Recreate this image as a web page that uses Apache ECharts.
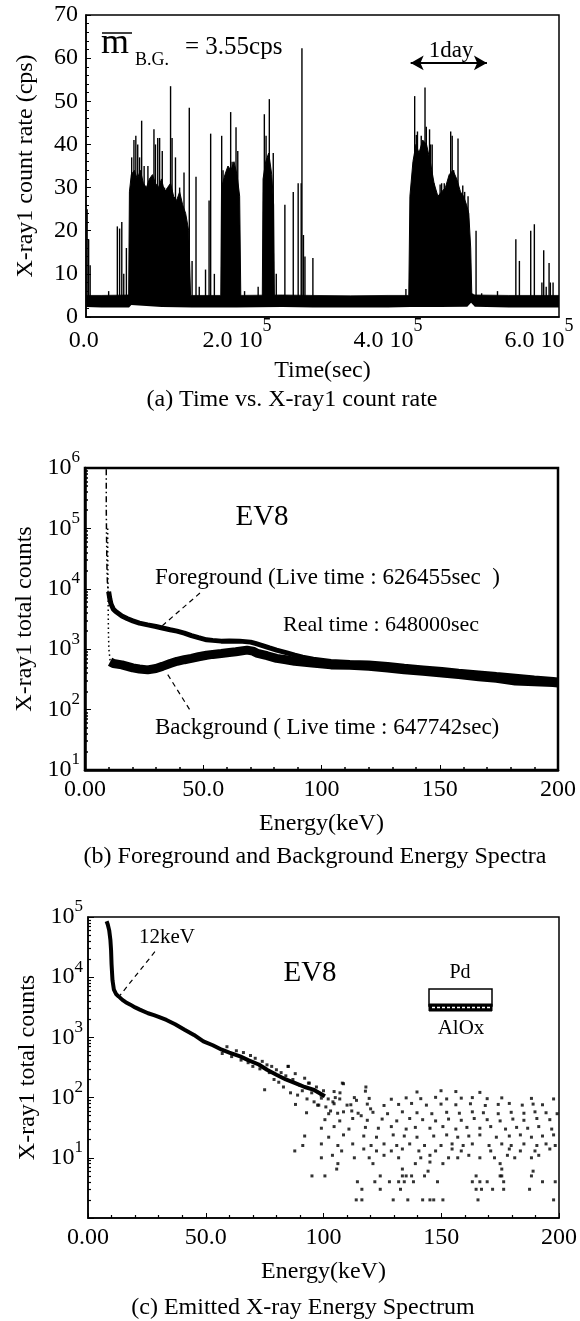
<!DOCTYPE html>
<html><head><meta charset="utf-8">
<script src="https://cdn.jsdelivr.net/npm/echarts@6/dist/echarts.min.js"></script>
<style>html,body{margin:0;padding:0;background:#fff}#c{width:580px;height:1321px}</style>
</head><body><div id="c"></div>
<script>
// ---------- Panel (a): time vs count rate ----------
const timeTickValues = [0, 200000, 400000, 600000];
const timeTickLabels = ['0.0', '2.0 10', '4.0 10', '6.0 10'];
const timeTickSup = ['', '5', '5', '5'];
const rateTicks = [0, 10, 20, 30, 40, 50, 60, 70];
// baseline band (lower / upper edge of the dense background trace)
const bandT    = [0, 20000, 57000, 60000, 100000, 140000, 200000, 260000, 300000, 350000, 400000, 430000, 470000, 505000, 510000, 515000, 560000, 600000, 626455];
const bandLow  = [2.3, 2.2, 2.2, 2.8, 2.3, 2.2, 2.2, 2.3, 2.2, 2.2, 2.2, 2.3, 2.3, 2.4, 3.3, 2.4, 2.2, 2.2, 2.2];
const bandHigh = [5.0, 5.0, 5.1, 5.2, 5.0, 5.0, 5.0, 5.1, 5.0, 4.9, 5.0, 5.0, 5.2, 5.2, 5.5, 5.1, 5.0, 5.0, 5.0];
// dense burst envelopes
const burst1 = [[56500,5],[57500,29],[60000,33],[64000,34],[68000,32],[72000,34],[76000,31],[80000,30],[84000,32],[88000,33],[92000,31],[96000,30],[100000,32],[104000,29],[108000,30],[112000,31],[116000,28],[120000,27],[124000,29],[128000,26],[132000,24],[136000,20],[138500,5]];
const burst2 = [[178500,5],[179500,30],[184000,33],[188000,35],[192000,34],[196000,36],[200000,33],[203500,28],[205000,5]];
const burst3 = [[233500,5],[234500,32],[238000,36],[242000,38],[246000,33],[248500,26],[249500,5]];
const burst4 = [[427500,5],[429000,28],[433000,36],[437000,40],[441000,38],[446000,41],[451000,40],[456000,36],[461000,31],[466000,28],[471000,29],[476000,30],[481000,33],[486000,34],[491000,32],[496000,29],[500000,28],[504000,26],[507000,24],[509500,16],[511000,5]];
// individual spikes [time, cps]
const spikes = [
 [1500,25],[3500,18],[5500,12],[30000,6],[41500,21],[44500,20.5],[47400,22],[50000,10],[53500,16],
 [60500,37],[63500,41],[66000,42],[68500,40],[71000,37],[73700,45.5],[77000,35],[82000,35],[90000,43.5],[92000,40],[95000,41.5],[97500,41.5],[101000,38.5],[104000,30],[112000,53.5],[114000,41.5],[118500,37],[124000,30],[129800,33.5],[136800,48.5],[140500,13],[145700,32.5],[150000,7],[158300,11],[163000,27],[165100,42.5],[170000,10],
 [179700,42],[181500,34],[191600,47.5],[193500,36],[198700,44],[201000,38.5],[210000,6],[228000,7],
 [236200,47],[238500,42],[242800,50.5],[248000,38],[252000,10],[263400,26],[274500,29],[281000,31],[285000,31],[286000,62.3],[288000,19],[290000,14],[300500,13.7],
 [423700,6.5],[435300,51.2],[437500,42.2],[439000,43],[444000,42],[449000,53.2],[450700,44.1],[455000,43.5],[456300,40],[458500,40],[461000,31],[469000,30.7],[471000,31],[474500,31],[483000,43],[485000,42],[487000,34],[492700,41.4],[499000,30.5],[501500,29],[506000,28],
 [516600,20],[524000,5.5],[545000,6],[569300,18],[574000,13],[589000,20],[593800,21.5],[603800,8],[606200,15.5],[609500,7],[613300,12.5],[615000,8],[618600,8]
];

// ---------- Panel (b): foreground / background spectra ----------
const energyTickValues = [0, 50, 100, 150, 200];
const energyTickLabels = ['0.00', '50.0', '100', '150', '200'];
const fgSpike = [[9.0,950000],[9.0,200000],[9.1,80000],[9.2,40000],[9.3,20000],[9.5,12000],[9.8,9000]];
const fgE = [10.0, 10.5, 11, 12, 13, 15.6, 18, 20.2, 23, 26.5, 30, 32.7, 36, 38.9, 42, 45, 48, 51.4, 54, 57.6, 61, 65.4, 70, 72, 74.7, 78, 81, 85, 88.7, 92, 96.5, 104, 112, 120, 128, 135, 143, 151, 158, 166.5, 174, 182, 190, 198, 200];
const fgV = [9000, 6800, 5600, 4600, 4200, 3550, 3200, 2950, 2700, 2530, 2380, 2240, 2100, 1990, 1850, 1680, 1550, 1430, 1400, 1360, 1370, 1360, 1310, 1250, 1160, 1050, 965, 880, 800, 740, 680, 625, 605, 590, 560, 520, 490, 460, 430, 405, 380, 357, 335, 316, 310];
const bgSpike = [[9.6,100000],[9.6,40000],[9.7,15000],[9.8,5000],[9.9,2000],[10.1,1000],[10.6,650]];
const bgE = [10.6, 12, 15.6, 20.2, 23, 26.5, 30, 32.7, 36, 38.9, 42, 45, 48, 51.4, 54, 57.6, 61, 63.8, 68.5, 71, 73, 77, 81, 85, 88.7, 96, 104, 112, 120, 128, 135, 143, 151, 158, 166.5, 174, 182, 190, 198, 200];
const bgV = [620, 580, 550, 490, 470, 455, 480, 520, 580, 630, 670, 705, 750, 795, 820, 850, 880, 905, 965, 930, 850, 780, 705, 670, 630, 590, 550, 540, 520, 490, 455, 430, 405, 380, 350, 330, 297, 290, 280, 275];

// ---------- Panel (c): emitted spectrum ----------
const cE = [7.9, 8.4, 9.0, 9.5, 9.8, 10.0, 10.4, 11.0, 12, 13, 14.6, 16, 18, 20, 22, 25.5, 28, 30, 33.3, 37, 41, 45, 49, 53, 56.8, 60, 64.6, 68, 72.5, 76, 80, 84, 88, 92, 96, 100.6];
const cV = [85000, 75000, 60000, 42000, 28000, 16500, 8900, 6200, 5200, 4800, 4200, 3850, 3500, 3150, 2900, 2520, 2350, 2200, 1950, 1650, 1340, 1100, 860, 740, 625, 560, 485, 420, 355, 290, 240, 200, 174, 150, 134, 105];
const cSpread = [[57,540],[59,700],[61,480],[63,600],[65,420],[66,560],[68,380],[69,500],[70,330],[71,450],[73,300],[74,400],[75,135],[76,350],[77,260],[78,330],[79,200],[80,290],[81,180],[82,260],[83,150],[84,230],[85,330],[86,120],[87,200],[88,250],[89,110],[90,160],[91,130],[92,210],[93,95],[94,174],[95,120],[96,85],[97,150],[98,75],[99,110],[100,130],[101,70],[102,95],[103,60],[104,85],[105,100],[106,55],[107,120],[108,174],[110,75],[112,60],[114,90],[116,50],[118,150],[120,65]];
const cNoise = [
 [113.9,2],[116.3,2],[129.6,2],[135.8,2],[142.1,2],[145.2,2],[146.8,2],[150.7,2],[165.6,2],[197.7,2],
 [116.3,3],[124.1,3],[132.7,3],[164.8,3],[167.1,3],[171.8,3],[176.5,3],[187.5,3],
 [114.4,4],[121.8,4],[128.0,4],[131.9,4],[134.3,4],[138.2,4],[148.4,4],[163.2,4],[166.4,4],[169.5,4],[176.5,4],[193.0,4],[198.4,4],
 [95.1,5],[100.6,5],[124.1,5],[133.5,5],[135.1,5],[137.4,5],[142.9,5],[164.8,5],[175.0,5],[175.7,5],[188.3,5],
 [105.6,6.5],[133.5,6.5],[144.4,6],[175.7,6.5],[189.0,6],[106.1,8],[121.0,8],[139.0,8],[145.2,8.5],[150.7,8],[175.0,8],
 [99.1,10],[103.8,11],[113.1,10],[119.4,10],[125.7,11],[131.9,10],[141.3,10],[145.2,11],[153.1,10],[157.0,10],[161.7,11],[166.4,10],[172.6,10],[178.1,11],[181.2,10],[188.3,10],[191.4,11],
 [87.8,13],[107.7,13],[117.1,14],[122.5,13],[128.8,13],[133.5,14],[140.5,13],[147.6,13],[154.6,14],[158.5,13],[171.0,13],[178.9,14],[183.6,13],[189.8,13],[196.1,14],
 [91.2,16],[99.1,17],[106.1,16],[112.4,17],[120.2,16],[125.7,17],[131.1,16],[136.6,17],[142.9,16],[149.9,16],[154.6,17],[159.3,16],[163.2,17],[170.3,16],[175.7,17],[179.7,16],[185.1,17],[190.6,16],[194.5,17],[198.4,16],
 [92.0,23],[102.2,22],[108.5,24],[117.1,23],[122.5,22],[129.6,24],[134.3,23],[139.7,22],[146.8,23],[152.3,24],[157.0,22],[161.7,23],[166.4,24],[173.4,22],[178.9,23],[183.6,24],[188.3,22],[193.0,23],[197.7,24],
 [99.1,31],[104.5,33],[110.8,30],[117.8,32],[123.3,31],[128.8,33],[135.1,30],[139.0,32],[145.2,31],[150.7,33],[156.2,30],[160.9,32],[166.4,31],[171.0,33],[177.3,30],[182.0,32],[186.7,31],[191.4,33],[196.9,30],
 [100.6,43],[106.9,41],[112.4,45],[118.6,42],[124.9,44],[131.1,41],[136.6,45],[142.1,43],[147.6,41],[153.1,44],[158.5,42],[164.0,45],[169.5,43],[175.0,41],[180.4,44],[185.1,42],[190.6,45],[196.1,43],
 [92.8,56],[102.2,54],[108.5,58],[114.7,55],[121.0,57],[127.2,54],[133.5,58],[139.7,56],[146.0,54],[152.3,57],[157.7,55],[163.2,58],[167.9,56],[174.2,54],[179.7,57],[185.1,55],[189.8,58],[194.5,56],[199.2,54],
 [88.1,77],[97.5,75],[104.5,79],[111.6,76],[118.6,78],[125.7,74],[131.9,77],[137.4,80],[143.7,75],[149.9,78],[156.2,76],[162.4,79],[168.7,74],[174.2,77],[178.9,80],[184.4,75],[189.0,78],[193.0,76],
 [99.1,98],[106.9,95],[113.1,100],[119.4,97],[128.8,94],[135.1,99],[141.3,96],[147.6,101],[152.3,95],[158.5,98],[163.2,100],[169.5,96],[175.7,99],[188.3,97],[197.7,95],
 [104.5,126],[117.8,128],[139.7,124],[149.9,130],[156.2,126],[166.4,122],[93.6,174],[108.5,170],[85.0,330]
];

// ---------- build ----------
const FF = '"Liberation Serif", "Times New Roman", serif';
const font = s => s + 'px ' + FF;
const zip = (a, b) => a.map((x, i) => [x, b[i]]);
const supRich = {
  b: { fontSize: 24, fontFamily: FF, color: '#000' },
  s: { fontSize: 17, fontFamily: FF, color: '#000', padding: [0, 0, 20, 0] }
};
const supRichA = {
  b: { fontSize: 24, fontFamily: FF, color: '#000' },
  s: { fontSize: 18, fontFamily: FF, color: '#000', padding: [0, 0, 30, 0] }
};
const logFmt = v => { const e = Math.round(Math.log10(v)); return e < 1 ? '' : '{b|10}{s|' + e + '}'; };
const energyFmt = v => { const i = energyTickValues.indexOf(v); return i < 0 ? '' : energyTickLabels[i]; };
const timeFmt = v => { const i = timeTickValues.indexOf(v); if (i < 0) return ''; return '{b|' + timeTickLabels[i] + '}{s|' + (timeTickSup[i] || ' ') + '}'; };
const axLine = w => ({ show: true, onZero: false, lineStyle: { color: '#000', width: w } });
const nameStyle = { fontFamily: FF, fontSize: 24, color: '#000' };
const labelBase = { fontFamily: FF, fontSize: 24, color: '#000' };
const dashedLeader = (a, b) => ({ silent: true, symbol: 'none', label: { show: false },
  lineStyle: { color: '#000', width: 1.2, type: [5, 4] }, data: [[{ coord: a }, { coord: b }]] });

const series = [];
// panel a
series.push({ type: 'line', xAxisIndex: 0, yAxisIndex: 0, data: zip(bandT, bandHigh), symbol: 'none',
  lineStyle: { width: 0.8, color: '#000' }, areaStyle: { color: '#000', opacity: 1 }, z: 2,
  markLine: { silent: true, symbol: ['arrow', 'arrow'], symbolSize: [11, 13], label: { show: false },
    lineStyle: { color: '#000', width: 2, type: 'solid' }, data: [[{ coord: [430000, 58.9] }, { coord: [531000, 58.9] }]] } });
[burst1, burst2, burst3, burst4].forEach(b => series.push({ type: 'line', xAxisIndex: 0, yAxisIndex: 0, data: b, symbol: 'none',
  lineStyle: { width: 1, color: '#000' }, areaStyle: { color: '#000', opacity: 1 }, z: 2 }));
series.push({ type: 'bar', xAxisIndex: 0, yAxisIndex: 0, data: spikes, barWidth: 1.4, itemStyle: { color: '#000' }, z: 2 });
series.push({ type: 'line', xAxisIndex: 0, yAxisIndex: 0, data: zip(bandT, bandLow), symbol: 'none',
  lineStyle: { width: 0 }, areaStyle: { color: '#fff', opacity: 1 }, z: 3 });
// panel b
series.push({ type: 'line', xAxisIndex: 1, yAxisIndex: 1, data: fgSpike, symbol: 'none',
  lineStyle: { color: '#000', width: 1.5, type: [6, 3, 1.5, 3] } });
series.push({ type: 'line', xAxisIndex: 1, yAxisIndex: 1, data: bgSpike, symbol: 'none',
  lineStyle: { color: '#000', width: 1.5, type: [1.5, 3] } });
series.push({ type: 'line', xAxisIndex: 1, yAxisIndex: 1, data: zip(bgE, bgV), symbol: 'none',
  lineStyle: { color: '#000', width: 9 },
  markLine: dashedLeader([35, 380], [44.4, 98]) });
series.push({ type: 'line', xAxisIndex: 1, yAxisIndex: 1, data: zip(fgE, fgV), symbol: 'none',
  lineStyle: { color: '#000', width: 5 },
  markLine: dashedLeader([48.6, 8500], [32.7, 2450]) });
// panel c
series.push({ type: 'line', xAxisIndex: 2, yAxisIndex: 2, data: zip(cE, cV), symbol: 'none',
  lineStyle: { color: '#000', width: 4 },
  markLine: dashedLeader([28.4, 26500], [13.6, 5000]) });
series.push({ type: 'scatter', xAxisIndex: 2, yAxisIndex: 2, data: cSpread.concat(cNoise), symbol: 'rect', symbolSize: 3,
  itemStyle: { color: '#000' } });

const T = (text, x, y, size, align) => ({ type: 'text', x: x, y: y, silent: true,
  style: { text: text, font: font(size), fill: '#000', textAlign: align || 'center', textVerticalAlign: 'middle' } });

const option = {
  animation: false,
  backgroundColor: '#fff',
  grid: [
    { left: 86, top: 15, width: 473, height: 302, show: true, borderColor: '#000', borderWidth: 1.5, z: 10 },
    { left: 85, top: 468, width: 473, height: 302, show: true, borderColor: '#000', borderWidth: 2.5, z: 10 },
    { left: 88, top: 917, width: 471, height: 301, show: true, borderColor: '#000', borderWidth: 1.5, z: 10 }
  ],
  xAxis: [
    { gridIndex: 0, type: 'value', min: 0, max: 626455, interval: 200000, z: 10,
      axisLine: axLine(1.5), axisTick: { show: false }, splitLine: { show: false },
      axisLabel: { formatter: timeFmt, margin: 0, rich: supRichA, showMaxLabel: false },
      name: 'Time(sec)', nameLocation: 'middle', nameGap: 42, nameTextStyle: nameStyle },
    { gridIndex: 1, type: 'value', min: 0, max: 200, interval: 50, z: 10,
      axisLine: axLine(2.5), axisTick: { show: true, inside: true, length: 5 },
      minorTick: { show: true, splitNumber: 5, length: 3, lineStyle: { color: '#000', width: 1.5 } },
      splitLine: { show: false },
      axisLabel: Object.assign({ formatter: energyFmt, margin: 8 }, labelBase),
      name: 'Energy(keV)', nameLocation: 'middle', nameGap: 42, nameTextStyle: nameStyle },
    { gridIndex: 2, type: 'value', min: 0, max: 200, interval: 50, z: 10,
      axisLine: axLine(1.5), axisTick: { show: true, inside: true, length: 5 },
      minorTick: { show: true, splitNumber: 5, length: 3, lineStyle: { color: '#000', width: 1.2 } },
      splitLine: { show: false },
      axisLabel: Object.assign({ formatter: energyFmt, margin: 8 }, labelBase),
      name: 'Energy(keV)', nameLocation: 'middle', nameGap: 42, nameTextStyle: nameStyle }
  ],
  yAxis: [
    { gridIndex: 0, type: 'value', min: rateTicks[0], max: rateTicks[rateTicks.length - 1], interval: 10, z: 10,
      axisLine: axLine(1.5), axisTick: { show: true, inside: true, length: 5 },
      minorTick: { show: true, splitNumber: 5, length: 3, lineStyle: { color: '#000' } },
      splitLine: { show: false },
      axisLabel: Object.assign({ margin: 8 }, labelBase),
      name: 'X-ray1 count rate (cps)', nameLocation: 'middle', nameGap: 48, nameTextStyle: nameStyle },
    { gridIndex: 1, type: 'log', min: 10, max: 1000000, logBase: 10, z: 10,
      axisLine: axLine(2.5), axisTick: { show: true, inside: true, length: 6 },
      minorTick: { show: true, splitNumber: 9, length: 3, lineStyle: { color: '#000', width: 1.5 } },
      splitLine: { show: false },
      axisLabel: { formatter: logFmt, rich: supRich, margin: 5 },
      name: 'X-ray1 total counts', nameLocation: 'middle', nameGap: 48, nameTextStyle: nameStyle },
    { gridIndex: 2, type: 'log', min: 1, max: 100000, logBase: 10, z: 10,
      axisLine: axLine(1.5), axisTick: { show: true, inside: true, length: 6 },
      minorTick: { show: true, splitNumber: 9, length: 3, lineStyle: { color: '#000', width: 1.2 } },
      splitLine: { show: false },
      axisLabel: { formatter: logFmt, rich: supRich, margin: 5 },
      name: 'X-ray1 total counts', nameLocation: 'middle', nameGap: 48, nameTextStyle: nameStyle }
  ],
  series: series,
  graphic: [
    // panel a annotations
    { type: 'line', silent: true, shape: { x1: 102, y1: 33, x2: 132, y2: 33 }, style: { stroke: '#000', lineWidth: 1.5 } },
    T('m', 101, 44, 36, 'left'),
    T('B.G.', 135, 60, 18, 'left'),
    T('= 3.55cps', 185, 47, 25, 'left'),
    T('1day', 451, 51, 23),
    T('(a) Time vs. X-ray1 count rate', 292, 400, 24),
    // panel b annotations
    T('EV8', 262, 517, 29),
    T('Foreground (Live time : 626455sec  )', 155, 578, 23, 'left'),
    T('Real time : 648000sec', 283, 625, 22, 'left'),
    T('Background ( Live time : 647742sec)', 155, 728, 23, 'left'),
    T('(b) Foreground and Background Energy Spectra', 315, 857, 24),
    // panel c annotations
    T('12keV', 167, 937, 21),
    T('EV8', 310, 973, 29),
    T('Pd', 460, 973, 20),
    { type: 'rect', silent: true, shape: { x: 429, y: 989, width: 63, height: 17 }, style: { fill: '#fff', stroke: '#000', lineWidth: 1.5 } },
    { type: 'rect', silent: true, shape: { x: 429, y: 1004, width: 63, height: 7 }, style: { fill: '#000', stroke: '#000', lineWidth: 1 } },
    { type: 'line', silent: true, shape: { x1: 432, y1: 1007.5, x2: 490, y2: 1007.5 }, style: { stroke: '#fff', lineWidth: 1.5, lineDash: [3, 2] } },
    T('AlOx', 461, 1028, 21),
    T('(c) Emitted X-ray Energy Spectrum', 303, 1308, 24)
  ]
};
const chart = echarts.init(document.getElementById('c'), null, { renderer: 'canvas' });
chart.setOption(option);
</script></body></html>
